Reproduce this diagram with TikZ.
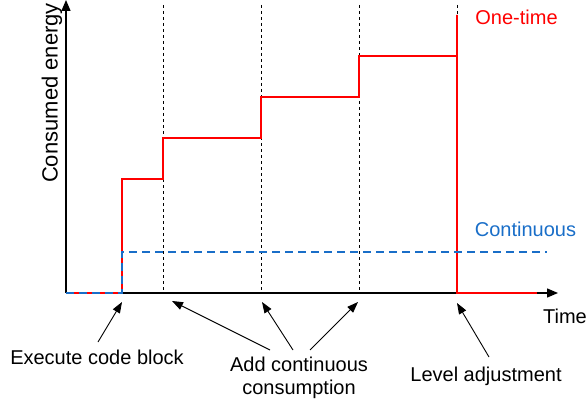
\documentclass[tikz,border=0pt]{standalone}
\usepackage{fontspec}
\setmainfont{Liberation Sans}
\usetikzlibrary{arrows.meta}
\definecolor{oneRed}{RGB}{255,0,0}
\definecolor{contBlue}{RGB}{25,110,200}
\begin{document}
\begin{tikzpicture}[x=1pt,y=-1pt,
  lbl/.style={font=\fontsize{20}{23}\selectfont, inner sep=0pt, align=center},
  axis/.style={line width=1.4pt,-{Triangle[length=11pt,width=9pt]}},
  ptr/.style={line width=0.9pt,-{Triangle[length=11pt,width=8pt]}},
  grid/.style={line width=0.9pt, dash pattern=on 3pt off 3pt},
  onetime/.style={line width=2.6pt, oneRed},
  cont/.style={line width=2.6pt, contBlue, dash pattern=on 8pt off 5pt}]
\useasboundingbox (0,0) rectangle (587,404);
% coordinates
\coordinate (o) at (66,293);
\coordinate (ytop) at (66,0);
\coordinate (xend) at (558,293);
% dashed guides
\foreach \x/\n in {163/a,261/b,359/c,457/d} {
  \coordinate (g\n top) at (\x,5);
  \coordinate (g\n) at (\x,293);
  \draw[grid] (g\n top) -- (g\n);
}
% axes
\draw[axis] (o) -- (ytop);
\draw[axis] (o) -- (xend);
% one-time curve
\draw[onetime] (o) -- (122,293) -- (122,179) -- (163,179) -- (163,138) -- (261,138) -- (261,97) -- (359,97) -- (359,56) -- (457,56) -- (457,15) -- (457,293) -- (537,293);
% continuous
\draw[cont] (o) -- (122,293) -- (122,252) -- (547,252);
% labels
\node[lbl, text=oneRed] (lone) at (516.5,17) {One-time};
\node[lbl, text=contBlue] (lcont) at (525.5,229) {Continuous};
\node[lbl] (ltime) at (565,316) {Time};
\node[lbl, font=\fontsize{22}{25}\selectfont, rotate=90] (ly) at (52,93) {Consumed energy};
\node[lbl] (lexec) at (97,357) {Execute code block};
\node[lbl] (ladd) at (299,378) {Add continuous\\consumption};
\node[lbl] (llev) at (486,376) {Level adjustment};
% pointer targets
\coordinate (pexec) at (122,302);
\coordinate (padd1) at (172,301);
\coordinate (padd2) at (262,302);
\coordinate (padd3) at (358,302);
\coordinate (plev) at (457,303);
\draw[ptr] (98,342) -- (pexec);
\draw[ptr] (270,350) -- (padd1);
\draw[ptr] (293,350) -- (padd2);
\draw[ptr] (310,350) -- (padd3);
\draw[ptr] (489,357) -- (plev);
\end{tikzpicture}
\end{document}
